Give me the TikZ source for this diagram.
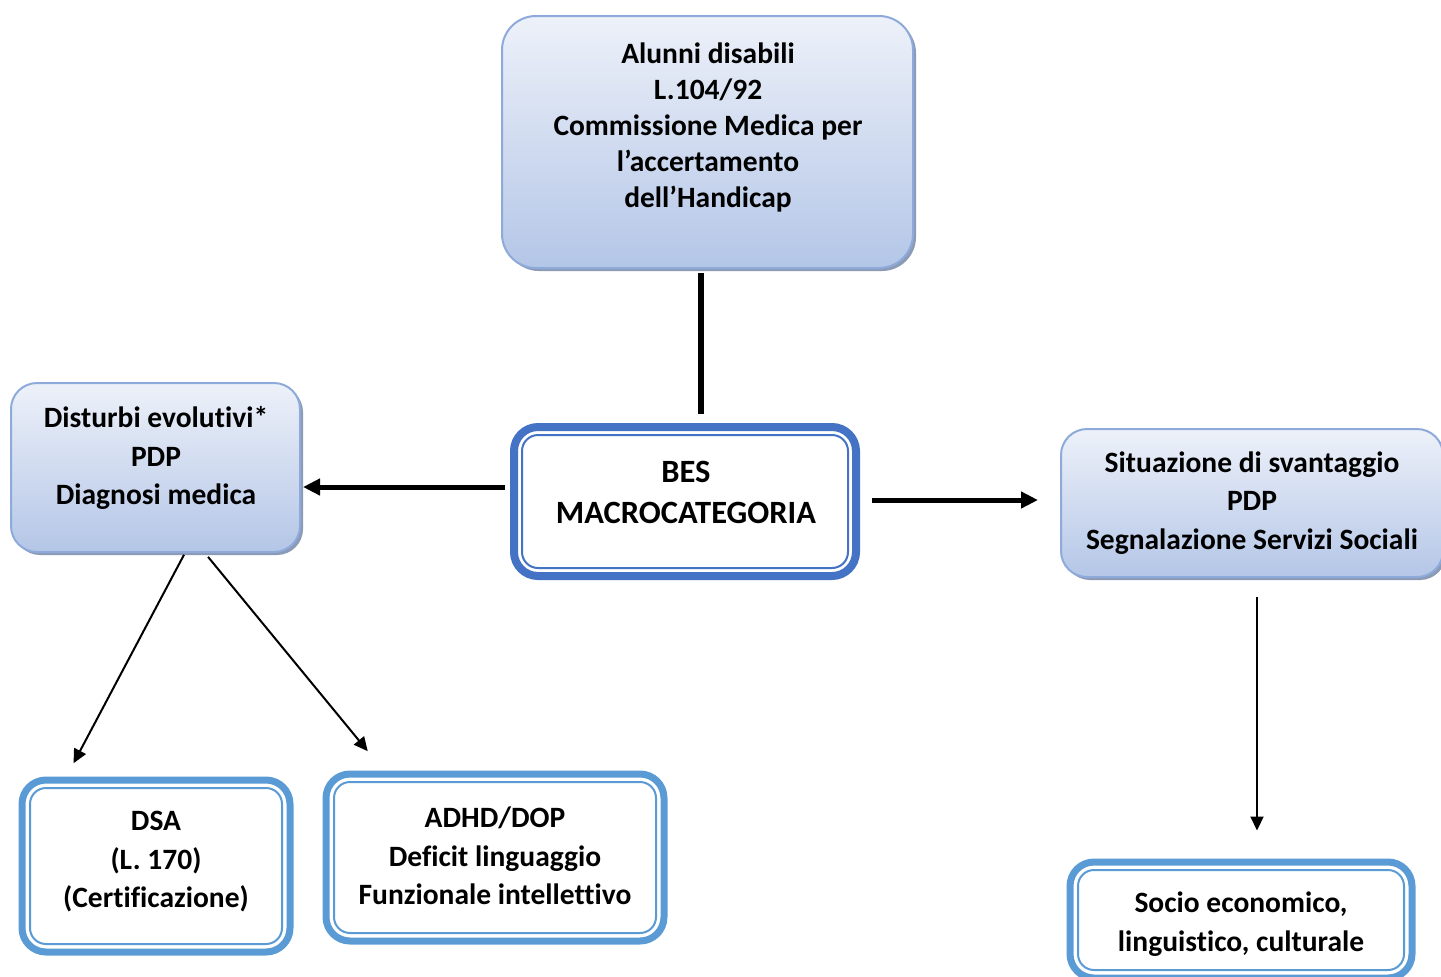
\documentclass[tikz,border=0pt]{standalone}
\usepackage{fontspec}
\setmainfont[Ligatures=NoCommon]{Carlito}
\usetikzlibrary{arrows.meta,shadows}
\definecolor{boxtop}{HTML}{EDF1F9}
\definecolor{boxbot}{HTML}{B4C6E7}
\definecolor{boxline}{HTML}{8EAADB}
\definecolor{boxshade}{HTML}{8C9BB5}
\definecolor{besblue}{HTML}{4472C4}
\definecolor{subblue}{HTML}{5B9BD5}
\begin{document}
\begin{tikzpicture}[x=0.5pt,y=-0.5pt,
  gradbox/.style={draw=boxline, line width=1pt, rounded corners=13pt,
    top color=boxtop, bottom color=boxbot,
    drop shadow={shadow xshift=1.5pt, shadow yshift=-1.5pt, fill=boxshade, opacity=1}},
  dblbox/.style={draw=#1, line width=4pt, rounded corners=12pt, fill=white},
  innerline/.style={draw=#1, line width=1pt, rounded corners=8pt},
  txt/.style={align=center, inner sep=0pt,
    font=\fontsize{14.75}{#1}\selectfont\bfseries},
  txt/.default=19.25pt,
  bigarrow/.style={line width=2.5pt, -{Triangle[length=8.5pt,width=8pt]}},
  smallarrow/.style={line width=1pt, -{Triangle[length=7pt,width=6.5pt]}}]
\useasboundingbox (0,0) rectangle (1441,976);

% boxes
\node[gradbox, rounded corners=17pt, minimum width=205.5pt, minimum height=126pt] (alunni) at (707.5,142) {};
\node[txt=18pt] (alunni-t) at (708,127) {Alunni disabili\\L.104/92\\Commissione Medica per\\l’accertamento\\dell’Handicap};

\node[dblbox=besblue, minimum width=171pt, minimum height=74.5pt] (bes) at (685,501.5) {};
\node[txt, font=\fontsize{16.25}{20.5}\selectfont\bfseries] (bes-t) at (686,492) {BES\\MACROCATEGORIA};

\node[gradbox, minimum width=144.5pt, minimum height=84.5pt] (dist) at (155.5,467.5) {};
\node[txt] (dist-t) at (156,458) {Disturbi evolutivi*\\PDP\\Diagnosi medica};

\node[gradbox, minimum width=191pt, minimum height=74pt] (sit) at (1252,503) {};
\node[txt] (sit-t) at (1252,503) {Situazione di svantaggio\\PDP\\Segnalazione Servizi Sociali};

\node[dblbox=subblue, line width=3.5pt, minimum width=134pt, minimum height=86pt] (dsa) at (156,866) {};
\node[txt] (dsa-t) at (156,862) {DSA\\(L. 170)\\(Certificazione)};

\node[dblbox=subblue, line width=3.5pt, minimum width=169pt, minimum height=83.5pt] (adhd) at (495,857.5) {};
\node[txt] (adhd-t) at (495,856) {ADHD/DOP\\Deficit linguaggio\\Funzionale intellettivo};

\node[dblbox=subblue, line width=3.5pt, minimum width=171pt, minimum height=58pt] (socio) at (1241,920) {};
\node[txt] (socio-t) at (1241,924) {Socio economico,\\linguistico, culturale};

% inner borders of the double boxes
\foreach \n/\c/\d in {bes/besblue/6pt, dsa/subblue/5.75pt, adhd/subblue/5.75pt, socio/subblue/5.75pt}
  \draw[innerline=\c] ([shift={(\d,-\d)}]\n.north west) rectangle ([shift={(-\d,\d)}]\n.south east);

% links
\coordinate (alunni-out) at ([xshift=-3.25pt]alunni.south);
\draw[line width=2.75pt, shorten <=2pt, shorten >=4.5pt] (alunni-out) -- (alunni-out |- bes.north);

\coordinate (bes-left) at ([yshift=7.25pt]bes.west);
\draw[bigarrow, shorten <=2.5pt, shorten >=1pt] (bes-left) -- (bes-left -| dist.east);

\coordinate (bes-right) at ([yshift=0.75pt]bes.east);
\draw[bigarrow, shorten <=6pt, shorten >=11pt] (bes-right) -- (bes-right -| sit.west);

\draw[smallarrow, shorten <=1pt, shorten >=7.5pt] (dist.-71) -- (dsa.135);
\draw[smallarrow, shorten <=2.5pt, shorten >=12.5pt] (dist.-60) -- (adhd.142);

\coordinate (sit-out) at ([xshift=2.5pt]sit.south);
\draw[smallarrow, shorten <=9.5pt, shorten >=14pt] (sit-out) -- (sit-out |- socio.north);
\end{tikzpicture}
\end{document}
